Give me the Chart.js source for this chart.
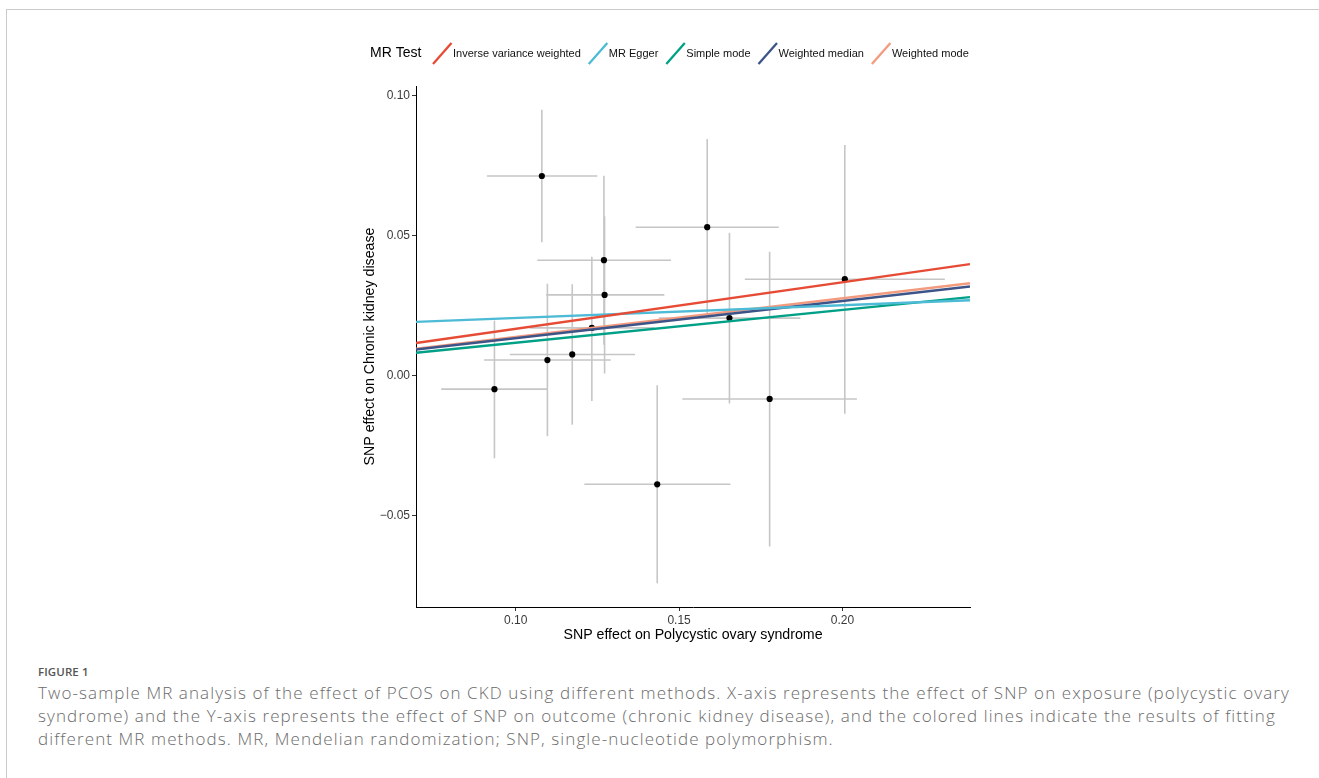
<!DOCTYPE html>
<html>
<head>
<meta charset="utf-8">
<script src="https://cdn.jsdelivr.net/npm/chart.js@4.4.1/dist/chart.umd.min.js"></script>
<style>
html,body{margin:0;padding:0;background:#fff;}
body{width:1319px;height:778px;position:relative;overflow:hidden;}
#frame{position:absolute;left:6px;top:9px;width:1320px;height:780px;border-top:1px solid #cacaca;border-left:1px solid #cacaca;}
#c{position:absolute;left:0;top:0;}
#figlabel{position:absolute;left:38px;top:664px;font-family:"Open Sans",sans-serif;font-size:11.5px;line-height:16px;color:#555;font-weight:600;letter-spacing:0.1px;}
#caption{position:absolute;left:38px;top:681px;font-family:"Open Sans",sans-serif;font-size:17px;line-height:23px;color:#6b6b6b;font-weight:300;white-space:nowrap;}
#caption span{display:inline-block;}
</style>
</head>
<body>
<div id="frame"></div>
<canvas id="c" width="1319" height="660"></canvas>
<div id="figlabel">FIGURE 1</div>
<div id="caption"><span id="cl1">Two-sample MR analysis of the effect of PCOS on CKD using different methods. X-axis represents the effect of SNP on exposure (polycystic ovary</span><br><span>syndrome) and the Y-axis represents the effect of SNP on outcome (chronic kidney disease), and the colored lines indicate the results of fitting</span><br><span>different MR methods. MR, Mendelian randomization; SNP, single-nucleotide polymorphism.</span></div>
<script>
// ---- data ----
const exposureBeta = [0.1080, 0.1270, 0.1272, 0.1586, 0.1654, 0.2007, 0.1233, 0.1097, 0.1173, 0.0935, 0.1777, 0.1433];
const exposureLo   = [0.0912, 0.1066, 0.1093, 0.1367, 0.1438, 0.1701, 0.1043, 0.0903, 0.0982, 0.0772, 0.1510, 0.1210];
const exposureHi   = [0.1250, 0.1475, 0.1455, 0.1805, 0.1871, 0.2313, 0.1424, 0.1291, 0.1365, 0.1098, 0.2044, 0.1657];
const outcomeBeta  = [0.0713, 0.0412, 0.0288, 0.0530, 0.0205, 0.0344, 0.0170, 0.0055, 0.0075, -0.0049, -0.0084, -0.0389];
const outcomeLo    = [0.0476, 0.0110, 0.0007, 0.0214, -0.0100, -0.0137, -0.0091, -0.0217, -0.0176, -0.0296, -0.0611, -0.0743];
const outcomeHi    = [0.0950, 0.0714, 0.0569, 0.0845, 0.0510, 0.0824, 0.0424, 0.0328, 0.0326, 0.0196, 0.0442, -0.0035];

const methods    = ['Inverse variance weighted', 'MR Egger', 'Simple mode', 'Weighted median', 'Weighted mode'];
const slopes     = [0.1665, 0.0455, 0.1171, 0.1331, 0.1380];
const intercepts = [0, 0.0160, 0, 0, 0];

const xTicks = [0.10, 0.15, 0.20];
const xTickLabels = ['0.10', '0.15', '0.20'];
const yTicks = [-0.05, 0.00, 0.05, 0.10];
const yTickLabels = ['\u22120.05', '0.00', '0.05', '0.10'];

const legendTitle = 'MR Test';
const xTitle = 'SNP effect on Polycystic ovary syndrome';
const yTitle = 'SNP effect on Chronic kidney disease';

// ---- styles ----
const methodColors = ['#E64B35', '#4DBBD5', '#00A087', '#3C5488', '#F39B7F'];
const FONT = "'Liberation Sans', Arial, Helvetica, sans-serif";
const barColor = '#c6c6c6';

// caption: stretch letter spacing so the first line spans the same width as the original
(function () {
  const l1 = document.getElementById('cl1');
  const w = l1.getBoundingClientRect().width;
  const n = l1.textContent.length;
  const ls = (1252 - w) / n;
  document.getElementById('caption').style.letterSpacing = ls.toFixed(3) + 'px';
})();

// axis limits: data range expanded by 5% (ggplot default)
const xmn = Math.min(...exposureLo), xmx = Math.max(...exposureHi);
const ymn = Math.min(...outcomeLo), ymx = Math.max(...outcomeHi);
const xMin = xmn - (xmx - xmn) * 0.05, xMax = xmx + (xmx - xmn) * 0.05;
const yMin = ymn - (ymx - ymn) * 0.05, yMax = ymx + (ymx - ymn) * 0.05;

const datasets = [];
// fitted MR lines (on top)
methods.forEach((m, i) => {
  datasets.push({
    label: m,
    showLine: true,
    data: [{x: xMin, y: intercepts[i] + slopes[i] * xMin}, {x: xMax, y: intercepts[i] + slopes[i] * xMax}],
    borderColor: methodColors[i],
    borderWidth: 2.4,
    pointRadius: 0,
    order: i * 0.01
  });
});
// points
datasets.push({
  label: 'SNPs',
  data: exposureBeta.map((x, i) => ({x: x, y: outcomeBeta[i]})),
  backgroundColor: '#000',
  borderWidth: 0,
  pointRadius: 3.1,
  order: 1
});
// error bars
exposureBeta.forEach((x, i) => {
  datasets.push({
    label: 'h' + i, showLine: true, pointRadius: 0,
    data: [{x: exposureLo[i], y: outcomeBeta[i]}, {x: exposureHi[i], y: outcomeBeta[i]}],
    borderColor: barColor, borderWidth: 1.6, order: 2
  });
  datasets.push({
    label: 'v' + i, showLine: true, pointRadius: 0,
    data: [{x: x, y: outcomeLo[i]}, {x: x, y: outcomeHi[i]}],
    borderColor: barColor, borderWidth: 1.6, order: 2
  });
});

const legendPlugin = {
  id: 'mrLegend',
  afterDraw(chart) {
    const ctx = chart.ctx;
    ctx.save();
    ctx.textBaseline = 'middle';
    ctx.fillStyle = '#000';
    ctx.font = '14px ' + FONT;
    ctx.fillText(legendTitle, 370, 53.5);
    ctx.font = '11px ' + FONT;
    let x = 432;
    methods.forEach((m, i) => {
      ctx.strokeStyle = methodColors[i];
      ctx.lineWidth = 2.3;
      ctx.lineCap = 'butt';
      ctx.beginPath();
      ctx.moveTo(x + 1, 64);
      ctx.lineTo(x + 19.5, 43);
      ctx.stroke();
      ctx.fillStyle = '#111';
      ctx.fillText(m, x + 21, 53.5);
      x += 21 + ctx.measureText(m).width + 7;
    });
    ctx.restore();
  }
};

Chart.defaults.font.family = FONT;

new Chart(document.getElementById('c'), {
  type: 'scatter',
  data: {datasets: datasets},
  plugins: [legendPlugin],
  options: {
    responsive: false,
    animation: false,
    devicePixelRatio: 1,
    layout: {padding: {left: 356, right: 349, top: 86, bottom: 13}},
    plugins: {legend: {display: false}, tooltip: {enabled: false}},
    scales: {
      x: {
        type: 'linear', min: xMin, max: xMax,
        afterBuildTicks: s => { s.ticks = xTicks.map(v => ({value: v})); },
        afterFit: s => { s.height = 40; },
        ticks: {
          callback: (v, i) => xTickLabels[i],
          font: {size: 12, family: FONT}, color: '#3a3a3a', padding: 2,
          maxRotation: 0, autoSkip: false
        },
        grid: {display: true, drawOnChartArea: false, drawTicks: true, tickLength: 4, tickColor: '#333', tickWidth: 1},
        border: {display: true, color: '#000', width: 1},
        title: {display: true, text: xTitle, color: '#000', font: {size: 14.2, family: FONT}, padding: {top: 0, bottom: 3}}
      },
      y: {
        type: 'linear', min: yMin, max: yMax,
        afterBuildTicks: s => { s.ticks = yTicks.map(v => ({value: v})); },
        afterFit: s => { s.width = 60; },
        ticks: {
          callback: (v, i) => yTickLabels[i],
          font: {size: 12, family: FONT}, color: '#3a3a3a', padding: 2, autoSkip: false
        },
        grid: {display: true, drawOnChartArea: false, drawTicks: true, tickLength: 4, tickColor: '#333', tickWidth: 1},
        border: {display: true, color: '#000', width: 1},
        title: {display: true, text: yTitle, color: '#000', font: {size: 14.2, family: FONT}, padding: {top: 6, bottom: 0}}
      }
    }
  }
});
</script>
</body>
</html>
